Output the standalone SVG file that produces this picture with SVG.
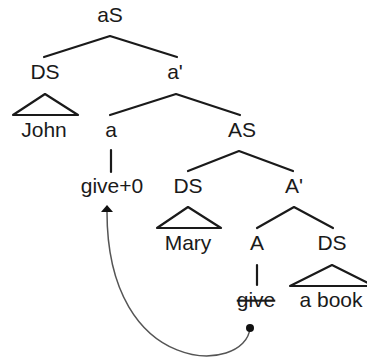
<svg xmlns="http://www.w3.org/2000/svg" width="367" height="358" viewBox="0 0 367 358">
<style>
text{font-family:"Liberation Sans",Arial,sans-serif;font-size:21px;fill:#1a1a1a;text-anchor:middle}
.e{stroke:#1a1a1a;stroke-width:2.2;fill:none;stroke-linecap:round;stroke-linejoin:round}
.mv{stroke:#555;stroke-width:1.5;fill:none}
</style>
<defs>
<marker id="ah" viewBox="0 0 12 7" refX="6" refY="0" markerWidth="12" markerHeight="7" markerUnits="userSpaceOnUse" orient="auto-start-reverse">
<path d="M0,7 L6,0 L12,7 Z" fill="#111"/>
</marker>
</defs>
<rect width="367" height="358" fill="#fff"/>
<g id="connectors">
<path class="e" d="M44,57 L110,36 L177,57"/>
<path class="e" d="M110,115 L176,94 L240,115"/>
<path class="e" d="M111,150 L111,172"/>
<path class="e" d="M188,171 L239,151 L293,171"/>
<path class="e" d="M257,228 L294,207 L333,228"/>
<path class="e" d="M257,265 L257,285"/>
<path class="e" d="M13,115 L45,94 L78,115 Z"/>
<path class="e" d="M157,228 L188,207 L221,228 Z"/>
<path class="e" d="M290,286 L332,265 L374,286 Z"/>
<path class="mv" d="M250,328 C246,375 107,378 107,212"/>
<path d="M101,212 L107,205 L113,212 Z" fill="#111"/>
<circle cx="250" cy="328" r="4" fill="#111"/>
</g>
<g id="aS"><text x="110" y="22">aS</text></g>
<g id="DS1"><text x="45" y="79">DS</text></g>
<g id="abar"><text x="175" y="79">a'</text></g>
<g id="John"><text x="44" y="137">John</text></g>
<g id="a"><text x="111" y="137">a</text></g>
<g id="AS"><text x="242" y="137">AS</text></g>
<g id="give0"><text x="112" y="193">give+0</text></g>
<g id="DS2"><text x="188" y="193">DS</text></g>
<g id="Abar"><text x="294" y="193">A'</text></g>
<g id="Mary"><text x="188" y="250">Mary</text></g>
<g id="A"><text x="257" y="250">A</text></g>
<g id="DS3"><text x="332" y="250">DS</text></g>
<g id="give"><text x="256" y="307" text-decoration="line-through">give</text></g>
<g id="abook"><text x="331" y="307">a book</text></g>
</svg>
